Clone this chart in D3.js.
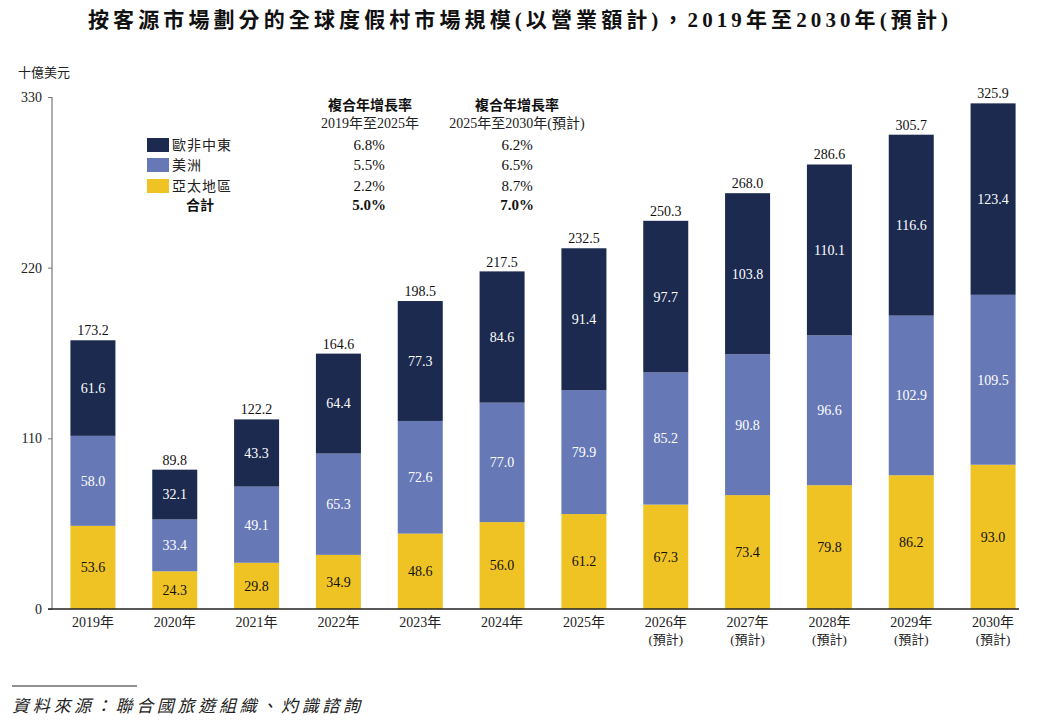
<!DOCTYPE html>
<html>
<head>
<meta charset="utf-8">
<script src="https://cdn.jsdelivr.net/npm/d3@7"></script>
<style>
  body{margin:0;background:#fff;}
  svg{display:block;}
</style>
</head>
<body>
<div id="chart"></div>
<script>
var years = ['2019年','2020年','2021年','2022年','2023年','2024年','2025年','2026年','2027年','2028年','2029年','2030年'];
var forecast = [false,false,false,false,false,false,false,true,true,true,true,true];
var apac = [53.6,24.3,29.8,34.9,48.6,56.0,61.2,67.3,73.4,79.8,86.2,93.0];
var americas = [58.0,33.4,49.1,65.3,72.6,77.0,79.9,85.2,90.8,96.6,102.9,109.5];
var emea = [61.6,32.1,43.3,64.4,77.3,84.6,91.4,97.7,103.8,110.1,116.6,123.4];
var totals = [173.2,89.8,122.2,164.6,198.5,217.5,232.5,250.3,268.0,286.6,305.7,325.9];
var yTicks = [0,110,220,330];

var seriesNames = ['歐非中東','美洲','亞太地區'];
var cagr1 = ['6.8%','5.5%','2.2%','5.0%'];
var cagr2 = ['6.2%','6.5%','8.7%','7.0%'];

var colors = {emea:'#1b2a4e', americas:'#6678b6', apac:'#efc324'};
var serif = "'Liberation Serif','Noto Sans CJK TC',serif";
var cjk = "'Noto Sans CJK TC','Liberation Serif',sans-serif";

var width = 1040, height = 720;
var svg = d3.select('#chart').append('svg')
    .attr('width',width)
    .attr('height',height);

// title
svg.append('text')
    .text('按客源市場劃分的全球度假村市場規模(以營業額計)，2019年至2030年(預計)')
    .attr('x',88)
    .attr('y',27)
    .attr('textLength',860)
    .attr('lengthAdjust','spacing')
    .attr('font-family',serif)
    .attr('font-weight','bold')
    .attr('font-size','21px')
    .attr('fill','#111');

// unit
svg.append('text')
    .text('十億美元')
    .attr('x',18)
    .attr('y',77)
    .attr('font-family',cjk)
    .attr('font-size','13px')
    .attr('fill','#222');

var x = d3.scaleBand()
    .domain(years)
    .range([52,1034])
    .paddingInner(0.45)
    .paddingOuter(0.225);

var y = d3.scaleLinear()
    .domain([0,330])
    .range([609,97]);

// y axis
var yAxis = svg.append('g')
    .attr('transform','translate(52,0)')
    .call(d3.axisLeft(y).tickValues(yTicks).tickSize(4).tickPadding(6));
yAxis.select('.domain').attr('stroke','#777').attr('stroke-width',1.2).attr('d','M0,'+y(330)+'V'+y(0));
yAxis.selectAll('.tick line').attr('stroke','#777');
yAxis.selectAll('.tick text')
    .attr('font-family',serif)
    .attr('font-size','14px')
    .attr('fill','#222');

// stacked bars
var rows = years.map(function(yr,i){
    return {year:yr, apac:apac[i], americas:americas[i], emea:emea[i], total:totals[i], forecast:forecast[i]};
});
var stack = d3.stack().keys(['apac','americas','emea']);
var layers = stack(rows);

var layerG = svg.append('g').attr('class','bars').selectAll('g')
    .data(layers)
    .enter().append('g')
    .attr('fill',function(d){return colors[d.key];});

layerG.selectAll('rect')
    .data(function(d){return d;})
    .enter().append('rect')
    .attr('x',function(d){return x(d.data.year);})
    .attr('y',function(d){return y(d[1]);})
    .attr('width',x.bandwidth())
    .attr('height',function(d){return y(d[0])-y(d[1]);});

var labelG = svg.append('g').attr('class','seg-labels').selectAll('g')
    .data(layers)
    .enter().append('g');

labelG.selectAll('text')
    .data(function(d){
        return d.map(function(p){return {p:p,key:d.key};});
    })
    .enter().append('text')
    .text(function(d){return d.p.data[d.key].toFixed(1);})
    .attr('x',function(d){return x(d.p.data.year)+x.bandwidth()/2;})
    .attr('y',function(d){return (y(d.p[0])+y(d.p[1]))/2;})
    .attr('dy','0.35em')
    .attr('text-anchor','middle')
    .attr('font-family',serif)
    .attr('font-size','14px')
    .attr('fill',function(d){return d.key==='apac'?'#111':'#fff';});

// totals
svg.append('g').selectAll('text')
    .data(rows)
    .enter().append('text')
    .text(function(d){return d.total.toFixed(1);})
    .attr('x',function(d){return x(d.year)+x.bandwidth()/2;})
    .attr('y',function(d){return y(d.total)-5;})
    .attr('text-anchor','middle')
    .attr('font-family',serif)
    .attr('font-size','14px')
    .attr('fill','#111');

// baseline
svg.append('line')
    .attr('x1',48).attr('x2',1019)
    .attr('y1',y(0)).attr('y2',y(0))
    .attr('stroke','#222')
    .attr('stroke-width',1.5);

// x labels
var xl = svg.append('g').selectAll('g')
    .data(rows)
    .enter().append('g')
    .attr('transform',function(d){return 'translate('+(x(d.year)+x.bandwidth()/2)+',0)';});
xl.append('text')
    .text(function(d){return d.year;})
    .attr('y',627)
    .attr('text-anchor','middle')
    .attr('font-family',serif)
    .attr('font-size','14px')
    .attr('fill','#222');
xl.filter(function(d){return d.forecast;}).append('text')
    .text('(預計)')
    .attr('y',644)
    .attr('text-anchor','middle')
    .attr('font-family',serif)
    .attr('font-size','13px')
    .attr('fill','#222');

// legend / CAGR table
var legend = svg.append('g').attr('class','legend');
var rowY = [145,165,186];
legend.selectAll('rect')
    .data(seriesNames)
    .enter().append('rect')
    .attr('x',147)
    .attr('y',function(d,i){return rowY[i]-7;})
    .attr('width',22)
    .attr('height',14)
    .attr('fill',function(d,i){return [colors.emea,colors.americas,colors.apac][i];});
legend.selectAll('text.name')
    .data(seriesNames)
    .enter().append('text')
    .attr('class','name')
    .text(function(d){return d;})
    .attr('x',172)
    .attr('y',function(d,i){return rowY[i];})
    .attr('dy','0.35em')
    .attr('letter-spacing','1px')
    .attr('font-family',cjk)
    .attr('font-size','14px')
    .attr('fill','#222');
legend.append('text')
    .text('合計')
    .attr('x',200).attr('y',205).attr('dy','0.35em')
    .attr('text-anchor','middle')
    .attr('font-family',cjk)
    .attr('font-weight','bold')
    .attr('font-size','14px')
    .attr('fill','#111');

var cols = [{cx:369, hx:370, sub:'2019年至2025年', vals:cagr1},
            {cx:517, hx:517, sub:'2025年至2030年(預計)', vals:cagr2}];
cols.forEach(function(c){
    legend.append('text')
        .text('複合年增長率')
        .attr('x',c.hx).attr('y',105).attr('dy','0.35em')
        .attr('text-anchor','middle')
        .attr('font-family',cjk)
        .attr('font-weight','bold')
        .attr('font-size','14px')
        .attr('fill','#111');
    legend.append('text')
        .text(c.sub)
        .attr('x',c.hx).attr('y',123).attr('dy','0.35em')
        .attr('text-anchor','middle')
        .attr('font-family',serif)
        .attr('font-size','14px')
        .attr('fill','#222');
    legend.selectAll(null)
        .data(c.vals)
        .enter().append('text')
        .text(function(d){return d;})
        .attr('x',c.cx)
        .attr('y',function(d,i){return i<3?rowY[i]:205;})
        .attr('dy','0.35em')
        .attr('text-anchor','middle')
        .attr('font-family',serif)
        .attr('font-weight',function(d,i){return i===3?'bold':'normal';})
        .attr('font-size','15px')
        .attr('fill','#111');
});

// source
svg.append('line')
    .attr('x1',12).attr('x2',137)
    .attr('y1',686).attr('y2',686)
    .attr('stroke','#222')
    .attr('stroke-width',1);
svg.append('text')
    .text('資料來源：聯合國旅遊組織、灼識諮詢')
    .attr('x',12)
    .attr('y',712)
    .attr('textLength',348)
    .attr('lengthAdjust','spacing')
    .attr('font-family',cjk)
    .attr('font-style','italic')
    .attr('font-size','17px')
    .attr('fill','#222');
</script>
</body>
</html>
